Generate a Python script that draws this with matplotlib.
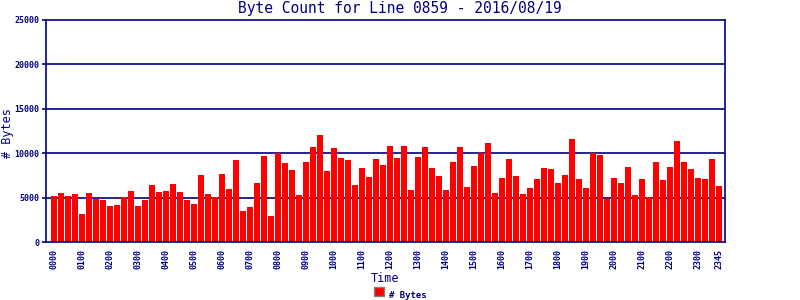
import matplotlib
matplotlib.use("Agg")
import matplotlib.pyplot as plt
from matplotlib.patches import Rectangle

title = "Byte Count for Line 0859 - 2016/08/19"
times = [f"{h:02d}{m:02d}" for h in range(24) for m in (0, 15, 30, 45)]
byte_counts = [
    5190, 5530, 5190, 5410, 3160, 5530, 4850, 4740,
    4060, 4170, 5080, 5750, 4060, 4740, 6430, 5640,
    5750, 6540, 5640, 4740, 4290, 7560, 5410, 5080,
    7670, 5980, 9250, 3500, 3950, 6660, 9700, 2930,
    10000, 8910, 8120, 5300, 9020, 10720, 12070, 8010,
    10600, 9480, 9250, 6430, 8350, 7330, 9360, 8690,
    10830, 9480, 10830, 5870, 9590, 10720, 8350, 7440,
    5870, 9020, 10720, 6200, 8570, 10000, 11170, 5530,
    7220, 9360, 7440, 5410, 6090, 7110, 8350, 8230,
    6660, 7560, 11620, 7110, 6090, 10000, 9810, 4850,
    7220, 6660, 8460, 5300, 7110, 5080, 9020, 7000,
    8460, 11390, 9020, 8230, 7220, 7110, 9360, 6320,
]
shown_labels = [f"{h:02d}00" for h in range(24)] + ["2345"]
y_ticks = [0, 5000, 10000, 15000, 20000, 25000]

navy = "#000080"
red = "#ff0000"
mono = ["DejaVu Sans Mono"]

fig = plt.figure(figsize=(8, 3), dpi=100)
ax = fig.add_axes([46 / 800, 1 - 242 / 300, (725 - 46) / 800, (242 - 20) / 300])

x = list(range(len(times)))
ax.bar(x, byte_counts, width=0.857, color=red, zorder=3, label="# Bytes")

for v in y_ticks[1:-1]:
    ax.axhline(v, color=navy, lw=1.2, zorder=2)

ax.set_xlim(-1.14, 95.86)
ax.set_ylim(0, 25000)
for s in ax.spines.values():
    s.set_color(navy)
    s.set_linewidth(1.2)
    s.set_zorder(4)

pos = [times.index(t) for t in shown_labels]
ax.set_xticks(pos)
ax.set_xticklabels(shown_labels, rotation=90, family=mono, fontsize=6,
                   fontweight="bold", color=navy)
ax.tick_params(axis="x", length=0, pad=5)
ax.set_yticks(y_ticks)
ax.set_yticklabels([str(v) for v in y_ticks], family=mono, fontsize=6,
                   fontweight="bold", color=navy)
ax.tick_params(axis="y", length=3, width=1.2, color=navy, pad=2)

fig.text(0.5, 1 - 9 / 300, title, ha="center", va="center", family=mono,
         fontsize=10.5, color=navy)
fig.text(0.481, 1 - 278 / 300, "Time", ha="center", va="center", family=mono,
         fontsize=8.5, color=navy)
fig.text(8 / 800, 1 - 133 / 300, "# Bytes", ha="center", va="center",
         rotation=90, family=mono, fontsize=8.5, color=navy)

# legend
fig.patches.append(Rectangle((374 / 800, 4 / 300), 10 / 800, 9 / 300,
                             transform=fig.transFigure, facecolor=red,
                             edgecolor="#808080", lw=1))
fig.text(389 / 800, 1 - 295 / 300, "# Bytes", ha="left", va="center", family=mono,
         fontsize=6.5, fontweight="bold", color=navy)

fig.savefig("out.png", dpi=100)
